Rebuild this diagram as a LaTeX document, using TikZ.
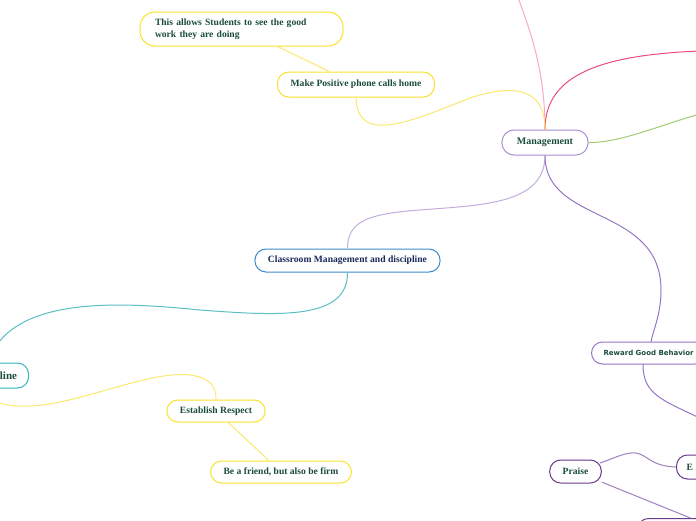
\documentclass[tikz,border=0pt]{standalone}
\usepackage{fontspec}
\setmainfont{Liberation Serif}
\newfontfamily\rgbfont{DejaVu Sans}
\usepackage{xcolor}
\definecolor{mmtext}{RGB}{27,77,62}
\definecolor{mmnavy}{RGB}{26,43,92}
\definecolor{mmyellow}{RGB}{250,226,40}
\definecolor{mmyellowline}{RGB}{250,232,110}
\definecolor{mmlavender}{RGB}{170,140,210}
\definecolor{mmlilac}{RGB}{196,172,220}
\definecolor{mmblue}{RGB}{60,140,205}
\definecolor{mmteal}{RGB}{48,184,190}
\definecolor{mmtealline}{RGB}{90,190,195}
\definecolor{mmpink}{RGB}{246,170,198}
\definecolor{mmrose}{RGB}{232,78,122}
\definecolor{mmgreen}{RGB}{160,204,112}
\definecolor{mmpurple}{RGB}{150,118,196}
\definecolor{mmplum}{RGB}{106,58,138}
\definecolor{mmplumline}{RGB}{160,128,190}
\usetikzlibrary{positioning}

\begin{document}
\begin{tikzpicture}[x=1pt, y=-1pt,
    pill/.style={draw, fill=white, line width=1pt, rounded corners=11pt, inner xsep=13pt,
      minimum height=23pt, font=\fontsize{9.6}{11.5}\selectfont\bfseries, text=mmtext},
    yellowpill/.style={pill, draw=mmyellow},
    plumpill/.style={pill, draw=mmplum},
    link/.style={line width=1pt}]
      \useasboundingbox (0,0) rectangle (696,520);
      \clip (0,0) rectangle (696,520);

      % Central topic
      \node (mgmt) [pill, draw=mmlavender, inner xsep=15pt, minimum height=25pt,
        rounded corners=12pt, font=\fontsize{10}{12}\selectfont\bfseries] at (545,142.5) {Management};

      % Branches leaving the page
      \draw[link, mmpink] (mgmt.north) .. controls (545,70) and (530,30) .. (517,-5);
      \draw[link, mmrose] (mgmt.north) .. controls (545,75) and (600,55) .. (700,51);
      \draw[link, mmgreen] (mgmt.east) .. controls (620,143) and (660,125) .. (700,114);

      % Phone calls (upper left)
      \node (calls) [yellowpill, minimum height=25pt] at (356,84.5) {Make Positive phone calls home};
      \node (allows) [yellowpill, align=left, text width=173pt, inner xsep=15pt, minimum height=34pt,
        rounded corners=15pt] at (241.5,29) {This allows Students to see the good\\work they are doing};
      \draw[link, mmyellowline] (calls.south) .. controls (357,145) and (410,122) .. (470,98)
        .. controls (510,85) and (545,85) .. (mgmt.north);
      \draw[link, mmyellowline] (allows) -- (calls);

      % Classroom management (middle)
      \node (classroom) [pill, draw=mmblue, text=mmnavy] at (347.5,260.5) {Classroom Management and discipline};
      \draw[link, mmlilac] (mgmt.south) .. controls (545,205) and (480,205) .. (420,210)
        .. controls (360,214) and (348,225) .. (classroom.north);
      \node (disc) [pill, draw=mmteal, anchor=east, text width=58pt, align=right, minimum height=25pt,
        inner xsep=11.5pt, font=\fontsize{11}{13}\selectfont\bfseries] at (29,375.5) {line};
      \draw[link, mmtealline] (classroom.south) .. controls (348,320) and (280,316) .. (200,310)
        .. controls (120,302) and (10,295) .. (disc.north);

      % Respect (lower left)
      \node (respect) [yellowpill, minimum height=22pt] at (216,411) {Establish Respect};
      \node (friend) [yellowpill, minimum height=22pt] at (281,472) {Be a friend, but also be firm};
      \draw[link, mmyellowline] (disc.south) .. controls (-15,400) and (0,407) .. (30,406)
        .. controls (80,404) and (150,370) .. (190,375) .. controls (212,378) and (216,388) .. (respect.north);
      \draw[link, mmyellowline] (respect) -- (friend);

      % Rewards (lower right)
      \node (reward) [pill, draw=mmpurple, anchor=west, inner xsep=12pt, minimum height=22pt,
        font=\rgbfont\fontsize{7}{9}\selectfont\bfseries] at (591,353) {Reward Good Behavior};
      \draw[link, mmpurple] (mgmt.south) .. controls (545,225) and (661,205) .. (661,290)
        .. controls (661,315) and (653,330) .. (651,342);
      \coordinate (rewardout) at (720,428);
      \draw[link, mmpurple] (643,364) .. controls (643,398) and (665,400) .. (rewardout);

      \node (praise) [plumpill] at (575.5,471.5) {Praise};
      \node (extra) [plumpill, anchor=west, text width=50pt, align=left, inner xsep=10pt, minimum height=24pt]
        at (676,467) {E};
      \node (lower) [plumpill, anchor=north west, minimum width=106pt] at (637,518) {};
      \draw[link, mmplumline] (600,463) .. controls (615,458) and (625,452) .. (636,453)
        .. controls (648,455) and (650,466) .. (extra.west);
      \draw[link, mmplumline] (praise) -- (lower.north);
    \end{tikzpicture}
\end{document}
